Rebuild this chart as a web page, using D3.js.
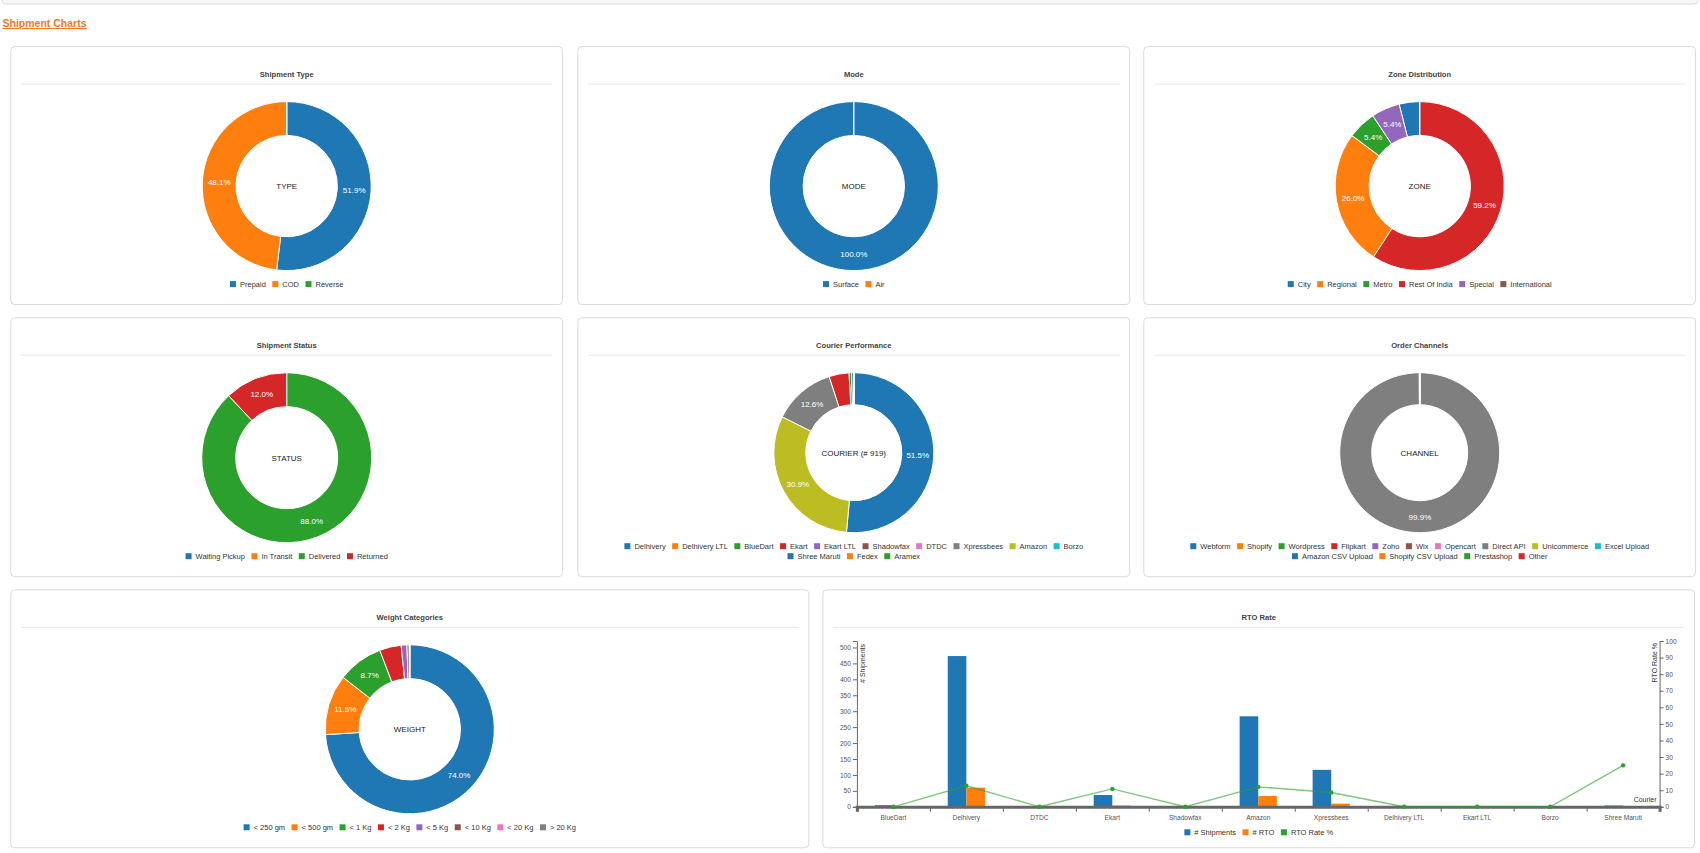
<!DOCTYPE html>
<html>
<head>
<meta charset="utf-8">
<script src="https://cdn.jsdelivr.net/npm/d3@7"></script>
<style>
  html, body { margin: 0; padding: 0; background: #fff; }
  svg { display: block; font-family: "Liberation Sans", Arial, sans-serif; }
  .card-title { font-size: 7.6px; font-weight: bold; fill: #444; }
  .legend-text { font-size: 7.5px; fill: #333; }
  .arc-label { font-size: 8px; fill: #fff; }
  .center-text { font-size: 8px; fill: #222; }
  .axis text { font-size: 6.6px; fill: #555; }
  .axis path, .axis line { stroke: #666; }
</style>
</head>
<body>
<div id="charts"></div>
<script>
// ---------------- data ----------------
const typeLabels = ["Prepaid", "COD", "Reverse"];
const typeValues = [477, 442, 0];

const modeLabels = ["Surface", "Air"];
const modeValues = [919, 0];

const zoneLabels = ["City", "Regional", "Metro", "Rest Of India", "Special", "International"];
const zoneValues = [36, 239, 50, 544, 50, 0];

const statusLabels = ["Waiting Pickup", "In Transit", "Delivered", "Returned"];
const statusValues = [0, 0, 809, 110];

const courierLabels = ["Delhivery", "Delhivery LTL", "BlueDart", "Ekart", "Ekart LTL", "Shadowfax", "DTDC",
  "Xpressbees", "Amazon", "Borzo", "Shree Maruti", "Fedex", "Aramex"];
const courierValues = [473, 0, 5, 37, 0, 0, 0, 116, 284, 0, 4, 0, 0];

const channelLabels = ["Webform", "Shopify", "Wordpress", "Flipkart", "Zoho", "Wix", "Opencart", "Direct API",
  "Unicommerce", "Excel Upload", "Amazon CSV Upload", "Shopify CSV Upload", "Prestashop", "Other"];
const channelValues = [1, 0, 0, 0, 0, 0, 0, 918, 0, 0, 0, 0, 0, 0];

const weightLabels = ["< 250 gm", "< 500 gm", "< 1 Kg", "< 2 Kg", "< 5 Kg", "< 10 Kg", "< 20 Kg", "> 20 Kg"];
const weightValues = [680, 106, 80, 38, 10, 4, 1, 0];

const rtoCouriers = ["BlueDart", "Delhivery", "DTDC", "Ekart", "Shadowfax", "Amazon", "Xpressbees",
  "Delhivery LTL", "Ekart LTL", "Borzo", "Shree Maruti"];
const rtoShipments = [5, 473, 0, 37, 0, 284, 116, 0, 0, 0, 4];
const rtoCounts = [0, 60, 0, 4, 0, 34, 10, 0, 0, 0, 1];
const rtoRates = [0, 12.7, 0, 10.8, 0, 12.0, 8.6, 0, 0, 0, 25.0];
const rtoSeries = ["# Shipments", "# RTO", "RTO Rate %"];

// ---------------- layout ----------------
const W = 1700, H = 853;
const colors = d3.schemeCategory10;
const GAP = 6.5;

const svg = d3.select("#charts").append("svg")
  .attr("width", W)
  .attr("height", H);

// top header strip + section title
svg.append("rect")
  .attr("x", 2).attr("y", -10).attr("width", 1696).attr("height", 14)
  .attr("rx", 4).attr("fill", "#f7f7f8").attr("stroke", "#dcdcdc");

svg.append("text")
  .attr("x", 2.5).attr("y", 27)
  .attr("font-size", "10.5px").attr("font-weight", "bold")
  .attr("fill", "#f07a1a")
  .attr("text-decoration", "underline")
  .text("Shipment Charts");

const row1 = 46.6, row2 = 317.7, row3 = 589.8;
const colW = 551.8;

function drawCard(card, title) {
  const g = svg.append("g");
  g.append("rect")
    .attr("x", card.x).attr("y", card.y)
    .attr("width", card.w).attr("height", card.h)
    .attr("rx", 4)
    .attr("fill", "#fff")
    .attr("stroke", "#dadada");
  g.append("text")
    .attr("class", "card-title")
    .attr("x", card.x + card.w / 2).attr("y", card.y + 27.5)
    .attr("dy", "0.35em")
    .attr("text-anchor", "middle")
    .text(title);
  g.append("line")
    .attr("x1", card.x + 10).attr("x2", card.x + card.w - 10)
    .attr("y1", card.y + 37.5).attr("y2", card.y + 37.5)
    .attr("stroke", "#e8e8e8");
  return g;
}

function drawLegend(parent, labels, legendColors, cx, lastRowY, maxW) {
  const items = labels.map((name, i) => {
    const g = parent.append("g");
    g.append("rect")
      .attr("y", -3).attr("width", 6).attr("height", 6)
      .attr("fill", legendColors[i % legendColors.length]);
    const t = g.append("text")
      .attr("class", "legend-text")
      .attr("x", 10).attr("dy", "0.35em")
      .text(name);
    return { g, w: 10 + t.node().getComputedTextLength() };
  });

  const rows = [[]];
  let rowW = 0;
  items.forEach(it => {
    const cur = rows[rows.length - 1];
    const add = (cur.length ? GAP : 0) + it.w;
    if (cur.length && rowW + add > maxW) {
      rows.push([it]);
      rowW = it.w;
    } else {
      cur.push(it);
      rowW += add;
    }
  });

  rows.forEach((row, r) => {
    const total = d3.sum(row, d => d.w) + GAP * (row.length - 1);
    let x = cx - total / 2;
    const y = lastRowY - (rows.length - 1 - r) * 10;
    row.forEach(it => {
      it.g.attr("transform", `translate(${x},${y})`);
      x += it.w + GAP;
    });
  });
  return rows.length;
}

function drawDonut(card, title, labels, values, centerText) {
  const g = drawCard(card, title);
  const cx = card.x + card.w / 2;
  const lastRowY = card.y + card.h - 20.5;
  const nRows = drawLegend(g, labels, colors, cx, lastRowY, card.w * 0.88);

  const top = card.y + 55;
  const bottom = lastRowY - (nRows - 1) * 10 - 13.5;
  const r = (bottom - top) / 2;
  const cy = top + r;

  const data = labels.map((name, i) => ({ name, value: values[i], color: colors[i % 10] }));
  const total = d3.sum(values);

  const pie = d3.pie().value(d => d.value);   // default: sorted by value, descending
  const arc = d3.arc().innerRadius(r * 0.6).outerRadius(r);

  const chart = g.append("g").attr("transform", `translate(${cx},${cy})`);

  chart.selectAll("path")
    .data(pie(data))
    .join("path")
    .attr("d", arc)
    .attr("fill", d => d.data.color)
    .attr("stroke", "#fff")
    .attr("stroke-width", 1);

  chart.selectAll("text.arc-label")
    .data(pie(data).filter(d => d.data.value / total >= 0.05))
    .join("text")
    .attr("class", "arc-label")
    .attr("transform", d => `translate(${arc.centroid(d)})`)
    .attr("dy", "0.35em")
    .attr("text-anchor", "middle")
    .text(d => d3.format(".1%")(d.data.value / total));

  chart.append("text")
    .attr("class", "center-text")
    .attr("dy", "0.35em")
    .attr("text-anchor", "middle")
    .text(centerText);
}

drawDonut({ x: 10.8, y: row1, w: colW, h: 258 }, "Shipment Type", typeLabels, typeValues, "TYPE");
drawDonut({ x: 577.9, y: row1, w: colW, h: 258 }, "Mode", modeLabels, modeValues, "MODE");
drawDonut({ x: 1143.8, y: row1, w: colW, h: 258 }, "Zone Distribution", zoneLabels, zoneValues, "ZONE");

drawDonut({ x: 10.8, y: row2, w: colW, h: 259 }, "Shipment Status", statusLabels, statusValues, "STATUS");
drawDonut({ x: 577.9, y: row2, w: colW, h: 259 }, "Courier Performance", courierLabels, courierValues,
  "COURIER (# " + d3.sum(courierValues) + ")");
drawDonut({ x: 1143.8, y: row2, w: colW, h: 259 }, "Order Channels", channelLabels, channelValues, "CHANNEL");

drawDonut({ x: 10.8, y: row3, w: 798, h: 258 }, "Weight Categories", weightLabels, weightValues, "WEIGHT");

// ---------------- RTO combo chart ----------------
function drawRto(card) {
  const g = drawCard(card, "RTO Rate");
  const left = card.x + 34, right = card.x + card.w - 35;
  const base = card.y + card.h - 41, topY = card.y + 51.2;

  const x = d3.scaleBand().domain(rtoCouriers).range([left, right]);
  const yL = d3.scaleLinear().domain([0, d3.max(rtoShipments) * 1.1]).range([base, topY]);
  const yR = d3.scaleLinear().domain([0, 100]).range([base, topY]);
  const bw = x.bandwidth() * 0.255;
  const mid = d => x(d) + x.bandwidth() / 2;

  // y axes
  g.append("g").attr("class", "axis")
    .attr("transform", `translate(${left},0)`)
    .call(d3.axisLeft(yL).ticks(10).tickSize(4).tickSizeOuter(4).tickPadding(2));
  g.append("g").attr("class", "axis")
    .attr("transform", `translate(${right},0)`)
    .call(d3.axisRight(yR).ticks(10).tickSize(4).tickSizeOuter(4).tickPadding(2));

  // bars
  const bars = g.append("g");
  bars.selectAll("rect.ship")
    .data(rtoCouriers)
    .join("rect")
    .attr("class", "ship")
    .attr("x", d => mid(d) - bw)
    .attr("width", bw)
    .attr("y", (d, i) => yL(rtoShipments[i]))
    .attr("height", (d, i) => base - yL(rtoShipments[i]))
    .attr("fill", colors[0]);
  bars.selectAll("rect.rto")
    .data(rtoCouriers)
    .join("rect")
    .attr("class", "rto")
    .attr("x", d => mid(d))
    .attr("width", bw)
    .attr("y", (d, i) => yL(rtoCounts[i]))
    .attr("height", (d, i) => base - yL(rtoCounts[i]))
    .attr("fill", colors[1]);

  // x axis: boundary ticks + labels at band centres
  const xb = d3.scaleLinear().domain([0, rtoCouriers.length]).range([left, right]);
  g.append("g").attr("class", "axis")
    .attr("transform", `translate(0,${base})`)
    .call(d3.axisBottom(xb).tickValues(d3.range(0, rtoCouriers.length + 1)).tickFormat("").tickSize(5).tickSizeOuter(5))
    .call(a => a.select(".domain").attr("stroke", "#aaa").attr("stroke-width", 3));
  g.append("g").attr("class", "axis")
    .attr("transform", `translate(0,${base})`)
    .call(d3.axisBottom(x).tickSize(0).tickPadding(9))
    .call(a => a.select(".domain").remove())
    .call(a => a.selectAll("text").attr("fill", "#444"));

  // rate line
  const line = d3.line()
    .x((d, i) => mid(rtoCouriers[i]))
    .y(d => yR(d));
  g.append("path")
    .datum(rtoRates)
    .attr("d", line)
    .attr("fill", "none")
    .attr("stroke", colors[2])
    .attr("stroke-opacity", 0.6)
    .attr("stroke-width", 1.4);
  g.selectAll("circle.rate")
    .data(rtoRates)
    .join("circle")
    .attr("class", "rate")
    .attr("cx", (d, i) => mid(rtoCouriers[i]))
    .attr("cy", d => yR(d))
    .attr("r", 2.2)
    .attr("fill", colors[2]);

  // axis titles
  g.append("text")
    .attr("transform", `translate(${left + 6},${topY + 3}) rotate(-90)`)
    .attr("dy", "0.35em")
    .attr("text-anchor", "end")
    .attr("font-size", "7px").attr("fill", "#333")
    .text("# Shipments");
  g.append("text")
    .attr("transform", `translate(${right - 5},${topY + 2}) rotate(-90)`)
    .attr("dy", "0.35em")
    .attr("text-anchor", "end")
    .attr("font-size", "7px").attr("fill", "#333")
    .text("RTO Rate %");
  g.append("text")
    .attr("x", right - 3).attr("y", base - 4.5)
    .attr("text-anchor", "end")
    .attr("font-size", "7px").attr("fill", "#333")
    .text("Courier");

  drawLegend(g, rtoSeries, colors, card.x + card.w / 2, card.y + card.h - 15.5, card.w * 0.88);
}

drawRto({ x: 822.9, y: row3, w: 871.7, h: 258 });
</script>
</body>
</html>
